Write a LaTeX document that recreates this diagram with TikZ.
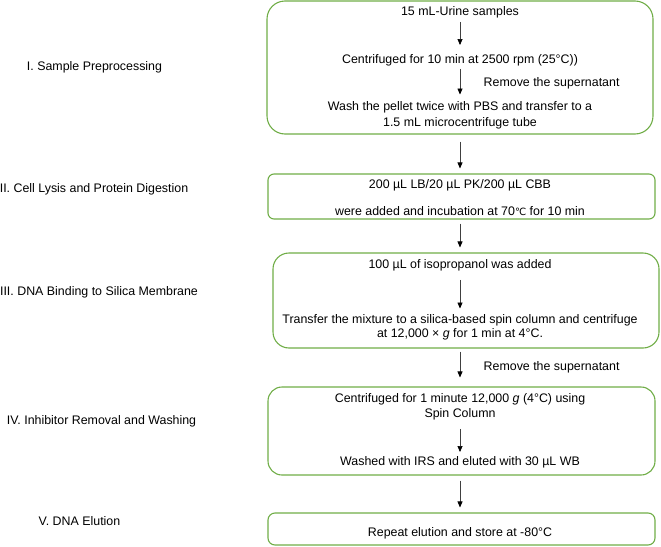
\documentclass[tikz,border=0pt]{standalone}
\usepackage{fontspec}
\setmainfont{Liberation Sans}
\newfontfamily\symfont{DejaVu Sans}
\usetikzlibrary{arrows.meta,calc}
\definecolor{boxgreen}{HTML}{70AD47}
\definecolor{arrowgray}{HTML}{404040}

\begin{document}
\begin{tikzpicture}[x=1pt, y=-1pt,
    font=\fontsize{12.4}{15}\selectfont,
    stage/.style={draw=boxgreen, line width=1.1pt},
    txt/.style={inner sep=3pt, align=center},
    flow/.style={-{Triangle[length=6pt,width=5pt,color=black]}, color=arrowgray, line width=0.7pt}]
    \useasboundingbox (0,0) rectangle (661,546);

    % Stage labels
    \node (l1) at (94.5,67) {I. Sample Preprocessing};
    \node (l2) at (94,189) {II. Cell Lysis and Protein Digestion};
    \node (l3) at (99,292) {III. DNA Binding to Silica Membrane};
    \node (l4) at (101.5,421) {IV. Inhibitor Removal and Washing};
    \node (l5) at (79.5,521) {V. DNA Elution};

    % Boxes
    \node[stage, rounded corners=18pt, minimum width=386pt, minimum height=133pt] (b1) at (460,67.5) {};
    \node[stage, rounded corners=6pt, minimum width=387pt, minimum height=45pt] (b2) at (461.5,196.5) {};
    \node[stage, rounded corners=16pt, minimum width=386pt, minimum height=95pt] (b3) at (466,300.5) {};
    \node[stage, rounded corners=14pt, minimum width=387pt, minimum height=88pt] (b4) at (461.5,431) {};
    \node[stage, rounded corners=7pt, minimum width=387pt, minimum height=32pt] (b5) at (461.5,529) {};

    % Texts
    \node[txt] (t1) at (460,12) {15 mL-Urine samples};
    \node[txt] (t2) at (460,60) {Centrifuged for 10 min at 2500 rpm (25°C))};
    \node[txt, font=\fontsize{12.4}{16}\selectfont] (t3) at (460,115) {Wash the pellet twice with PBS and transfer to a\\1.5 mL microcentrifuge tube};
    \node[txt] (t4) at (460,185) {200 µL LB/20 µL PK/200 µL CBB};
    \node[txt] (t5) at (460,211) {were added and incubation at 70{\symfont\fontsize{10}{12}\selectfont ℃} for 10 min};
    \node[txt] (t6) at (460,265) {100 µL of isopropanol was added};
    \node[txt, font=\fontsize{12.4}{14}\selectfont] (t7) at (460,327) {Transfer the mixture to a silica-based spin column and centrifuge\\at 12,000 × \textit{g} for 1 min at 4°C.};
    \node[txt] (t8) at (460,407) {Centrifuged for 1 minute 12,000 \textit{g} (4°C) using\\Spin Column};
    \node[txt] (t9) at (460,462) {Washed with IRS and eluted with 30 µL WB};
    \node[txt] (t10) at (460,533) {Repeat elution and store at -80°C};

    % Arrows inside boxes
    \draw[flow, shorten <=1pt, shorten >=6pt] (t1) -- (t2);
    \draw[flow, shorten <=0pt, shorten >=3.5pt] (t2) -- (t3) node[midway, right=20pt, color=black] {Remove the supernatant};
    \draw[flow, shorten <=6pt, shorten >=2.5pt] (t6) -- (t7);
    \draw[flow, shorten <=5.5pt, shorten >=1pt] (t8) -- (t9);

    % Arrows between boxes
    \draw[flow, shorten <=7pt, shorten >=5pt] (b1.south -| t1) -- (b2.north -| t1);
    \draw[flow, shorten <=4pt, shorten >=5pt] (b2.south -| t1) -- (b3.north -| t1);
    \draw[flow, shorten <=3pt, shorten >=9pt] (b3.south -| t1) -- (b4.north -| t1) node[midway, right=20pt, color=black] {Remove the supernatant};
    \draw[flow, shorten <=5pt, shorten >=5pt] (b4.south -| t1) -- (b5.north -| t1);
\end{tikzpicture}
\end{document}
